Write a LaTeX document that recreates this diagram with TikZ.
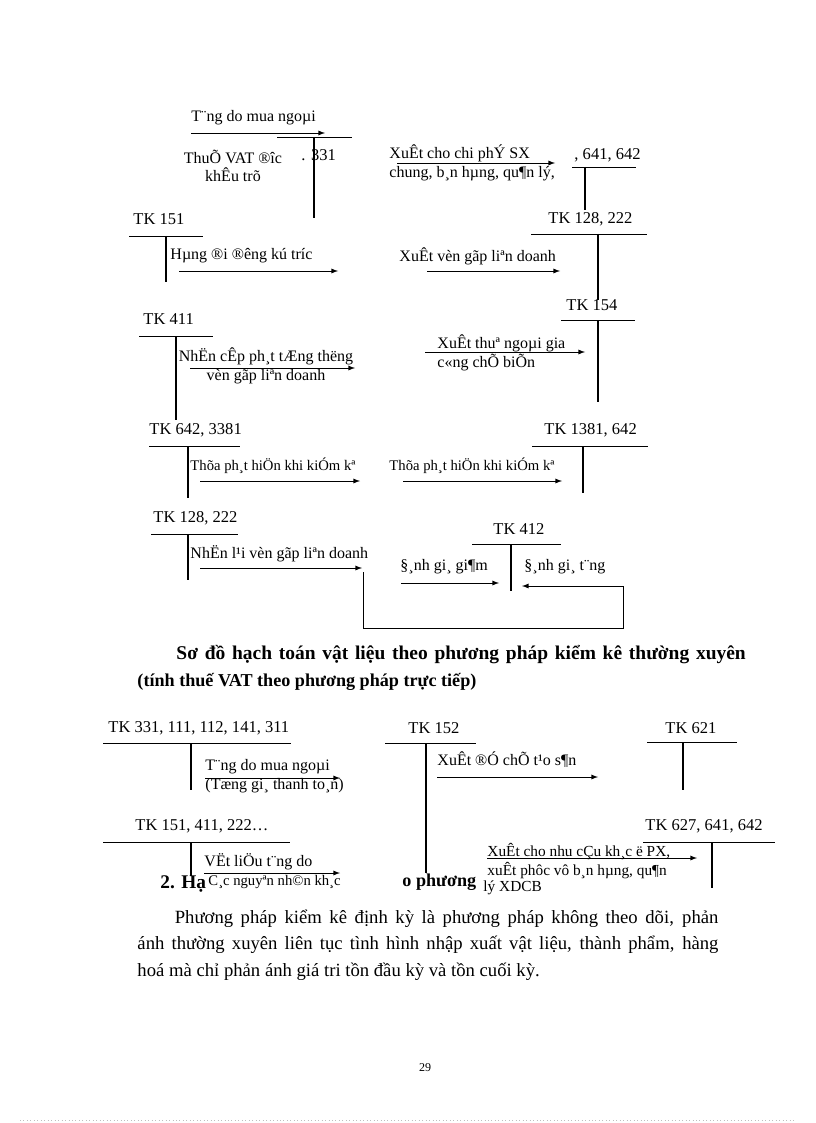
\documentclass[tikz,border=0pt]{standalone}
\usepackage{fontspec}
\setmainfont{Liberation Serif}
\usetikzlibrary{arrows.meta}
\usetikzlibrary{positioning}
\tikzset{
tk/.style={anchor=west,
  inner sep=0pt,
    font=\fontsize{12.4}{14}\selectfont},
lbl/.style={anchor=west,
  inner sep=0pt,
    align=left,
    font=\fontsize{12}{14}\selectfont},
hd/.style={anchor=west,
  inner sep=0pt,
    font=\fontsize{13.6}{17}\selectfont\bfseries},
}
\tikzset{invisible/.style={minimum width=0mm,inner sep=0mm,outer sep=0mm}}

\begin{document}
\begin{tikzpicture}[x=0.75pt,y=-0.75pt,line width=0.7pt]
    \useasboundingbox (0,0) rectangle (816,1123);

    % first diagram, upper part
    \node [lbl] (tang1) at (191,118) {T¨ng\ do mua ngoµi};
    \node [invisible] (tang1s) at (191,133) {};
    \node [invisible] (tang1e) at (325,133) {};
    \node [lbl, anchor=center, align=center] (vat) at (233,166) {ThuÕ VAT ®îc\\khÊu trõ};
    \node [tk] (tk331) at (301,155) {. 331};
    \node [invisible] (tk331l) at (277,137) {};
    \node [invisible] (tk331r) at (352,137) {};
    \node [invisible] (tk331b) at (314,218) {};

    \node [lbl] (xsx) at (389,163) {XuÊt cho chi phÝ SX\\chung,\ b¸n hµng,\ qu¶n lý,};
    \node [invisible] (xsxs) at (397,163) {};
    \node [invisible] (xsxe) at (555,163) {};
    \node [tk] (tk641) at (574,155) {, 641, 642};
    \node [invisible] (tk641l) at (572,167) {};
    \node [invisible] (tk641r) at (636,167) {};
    \node [invisible] (tk641b) at (585,210) {};

    \node [tk] (tk128a) at (548,219) {TK 128, 222};
    \node [invisible] (tk128al) at (531,234) {};
    \node [invisible] (tk128ar) at (647,234) {};
    \node [invisible] (tk128ab) at (598,300) {};

    \node [tk] (tk151) at (133,219) {TK 151};
    \node [invisible] (tk151l) at (129,236) {};
    \node [invisible] (tk151r) at (203,236) {};
    \node [invisible] (tk151b) at (166,282) {};
    \node [lbl] (hdd) at (170,256) {Hµng ®i ®êng\ kú tríc};
    \node [invisible] (hdds) at (179,271) {};
    \node [invisible] (hdde) at (338,271) {};
    \node [lbl] (xvg) at (399,256) {XuÊt vèn gãp liªn\ doanh};
    \node [invisible] (xvgs) at (427,271) {};
    \node [invisible] (xvge) at (560,271) {};

    % first diagram, middle part
    \node [tk] (tk411) at (143,319) {TK 411};
    \node [invisible] (tk411l) at (139,336) {};
    \node [invisible] (tk411r) at (213,336) {};
    \node [invisible] (tk411b) at (176,420) {};
    \node [lbl, anchor=center, align=center] (ncp) at (266,366) {NhËn cÊp ph¸t tÆng thëng\\vèn gãp liªn\ doanh};
    \node [invisible] (ncps) at (190,368) {};
    \node [invisible] (ncpe) at (355,368) {};
    \node [lbl] (xtn) at (437,353) {XuÊt thuª ngoµi\ gia\\c«ng\ chÕ biÕn};
    \node [invisible] (xtns) at (425,352) {};
    \node [invisible] (xtne) at (585,352) {};
    \node [tk] (tk154) at (566,305) {TK 154};
    \node [invisible] (tk154l) at (561,320) {};
    \node [invisible] (tk154r) at (635,320) {};
    \node [invisible] (tk154b) at (598,402) {};

    \node [tk] (tk642) at (149,430) {TK 642, 3381};
    \node [invisible] (tk642l) at (149,446) {};
    \node [invisible] (tk642r) at (240,446) {};
    \node [invisible] (tk642b) at (188,498) {};
    \node [lbl, font=\fontsize{11}{13}\selectfont] (thua1) at (190,466) {Thõa ph¸t hiÖn khi kiÓm kª};
    \node [invisible] (thua1s) at (200,481) {};
    \node [invisible] (thua1e) at (360,481) {};
    \node [lbl, font=\fontsize{11}{13}\selectfont] (thua2) at (389,466) {Thõa ph¸t hiÖn khi kiÓm kª};
    \node [invisible] (thua2s) at (403,481) {};
    \node [invisible] (thua2e) at (562,481) {};
    \node [tk] (tk1381) at (544,430) {TK 1381, 642};
    \node [invisible] (tk1381l) at (532,446) {};
    \node [invisible] (tk1381r) at (648,446) {};
    \node [invisible] (tk1381b) at (583,493) {};

    % first diagram, lower part
    \node [tk] (tk128b) at (153,518) {TK 128, 222};
    \node [invisible] (tk128bl) at (151,534) {};
    \node [invisible] (tk128br) at (238,534) {};
    \node [invisible] (tk128bb) at (188,580) {};
    \node [lbl] (nlv) at (190,554) {NhËn l¹i vèn gãp liªn\ doanh};
    \node [invisible] (nlvs) at (200,568) {};
    \node [invisible] (nlve) at (362,568) {};
    \node [tk] (tk412) at (493,529) {TK 412};
    \node [invisible] (tk412l) at (472,544) {};
    \node [invisible] (tk412r) at (561,544) {};
    \node [invisible] (tk412b) at (511,591) {};
    \node [lbl] (dgg) at (400,567) {§¸nh gi¸ gi¶m};
    \node [invisible] (dggs) at (401,583) {};
    \node [invisible] (dgge) at (499,583) {};
    \node [lbl] (dgt) at (524,567) {§¸nh gi¸ t¨ng};
    \node [invisible] (lp1) at (363,572) {};
    \node [invisible] (lp2) at (363,628) {};
    \node [invisible] (lp3) at (623,628) {};
    \node [invisible] (lp4) at (623,586) {};
    \node [invisible] (lp5) at (522,586) {};

    \node [hd, font=\fontsize{14.6}{17}\selectfont\bfseries] (title1) at (176,655) {\makebox[427pt][s]{Sơ đồ hạch toán vật liệu theo phương pháp kiểm kê thường xuyên}};
    \node [hd] (title2) at (137,682) {(tính thuế VAT theo phương pháp trực tiếp)};

    % second diagram
    \node [tk] (tk331c) at (108,728) {TK 331, 111, 112, 141, 311};
    \node [invisible] (tk331cl) at (103,743) {};
    \node [invisible] (tk331cr) at (291,743) {};
    \node [invisible] (tk331cb) at (191,790) {};
    \node [lbl] (tang2) at (205,776) {T¨ng\ do mua ngoµi\\(Tæng gi¸\ thanh to¸n)};
    \node [invisible] (tang2s) at (205,778) {};
    \node [invisible] (tang2e) at (340,778) {};
    \node [tk] (tk152) at (408,728) {TK 152};
    \node [invisible] (tk152l) at (385,743) {};
    \node [invisible] (tk152r) at (476,743) {};
    \node [invisible] (tk152b) at (426,873) {};
    \node [lbl] (xdc) at (437,760) {XuÊt ®Ó chÕ t¹o s¶n};
    \node [invisible] (xdcs) at (437,777) {};
    \node [invisible] (xdce) at (598,777) {};
    \node [tk] (tk621) at (665,728) {TK 621};
    \node [invisible] (tk621l) at (647,742) {};
    \node [invisible] (tk621r) at (737,742) {};
    \node [invisible] (tk621b) at (683,790) {};

    \node [tk] (tk151c) at (135,826) {TK 151, 411, 222…};
    \node [invisible] (tk151cl) at (103,842) {};
    \node [invisible] (tk151cr) at (290,842) {};
    \node [invisible] (tk151cb) at (191,876) {};
    \node [lbl] (vlt) at (204,862) {VËt liÖu t¨ng do};
    \node [invisible] (vlts) at (204,873) {};
    \node [invisible] (vlte) at (340,873) {};
    \node [tk] (tk627) at (645,826) {TK 627, 641, 642};
    \node [invisible] (tk627l) at (643,842) {};
    \node [invisible] (tk627r) at (775,842) {};
    \node [invisible] (tk627b) at (712,888) {};
    \node [lbl, font=\fontsize{11.5}{14}\selectfont] (xnc) at (487,861) {XuÊt\ cho nhu\ cÇu kh¸c ë PX,\\xuÊt\ phôc vô b¸n hµng,\ qu¶n};
    \node [invisible] (xncs) at (487,858) {};
    \node [invisible] (xnce) at (697,858) {};
    \node [lbl, font=\fontsize{11.5}{14}\selectfont] (xdcb) at (483,888) {lý XDCB};
    \node [hd, font=\fontsize{14.5}{17}\selectfont\bfseries] (sec2a) at (160,884) {2. Hạ};
    \node [lbl, font=\fontsize{11}{13}\selectfont] (cnn) at (208,882) {C¸c nguyªn\ nh©n kh¸c};
    \node [hd] (sec2b) at (402,882) {o phương};

    \node [anchor=north west, inner sep=0pt, text width=435.75pt, align=justify,
      font=\fontsize{14}{19.9}\selectfont] (body) at (137,909)
      {\hspace*{28pt}Phương pháp kiểm kê định kỳ là phương pháp không theo dõi, phản\linebreak
       ánh thường xuyên liên tục tình hình nhập xuất vật liệu, thành phẩm, hàng\linebreak
       hoá mà chỉ phản ánh giá tri tồn đầu kỳ và tồn cuối kỳ.};
    \node [font=\fontsize{9}{10}\selectfont, inner sep=0pt] (page) at (425,1068) {29};
    \node [invisible] (rule1) at (20,1120) {};
    \node [invisible] (rule2) at (795,1120) {};

  \draw [-latex] (tang1s) -- (tang1e);
  \draw [-latex] (xsxs) -- (xsxe);
  \draw [-latex] (hdds) -- (hdde);
  \draw [-latex] (xvgs) -- (xvge);
  \draw [-latex] (ncps) -- (ncpe);
  \draw [-latex] (xtns) -- (xtne);
  \draw [-latex] (thua1s) -- (thua1e);
  \draw [-latex] (thua2s) -- (thua2e);
  \draw [-latex] (nlvs) -- (nlve);
  \draw [-latex] (dggs) -- (dgge);
  \draw          (lp1.center) -- (lp2.center) -- (lp3.center) -- (lp4.center);
  \draw [-latex] (lp4.center) -- (lp5.center);
  \draw [-latex] (tang2s) -- (tang2e);
  \draw [-latex] (xdcs) -- (xdce);
  \draw [-latex] (vlts) -- (vlte);
  \draw [-latex] (xncs) -- (xnce);

  % T accounts
  \foreach \t in {tk331,tk641,tk128a,tk151,tk411,tk154,tk642,tk1381,tk128b,tk412,tk331c,tk152,tk621,tk151c,tk627}
  {
    \draw (\t l.center) -- (\t r.center);
    \draw [line width=1pt] (\t b.center |- \t l.center) -- (\t b.center);
  }
  \draw [gray!50, dotted, line width=0.6pt] (rule1) -- (rule2);
  \end{tikzpicture}
\end{document}
